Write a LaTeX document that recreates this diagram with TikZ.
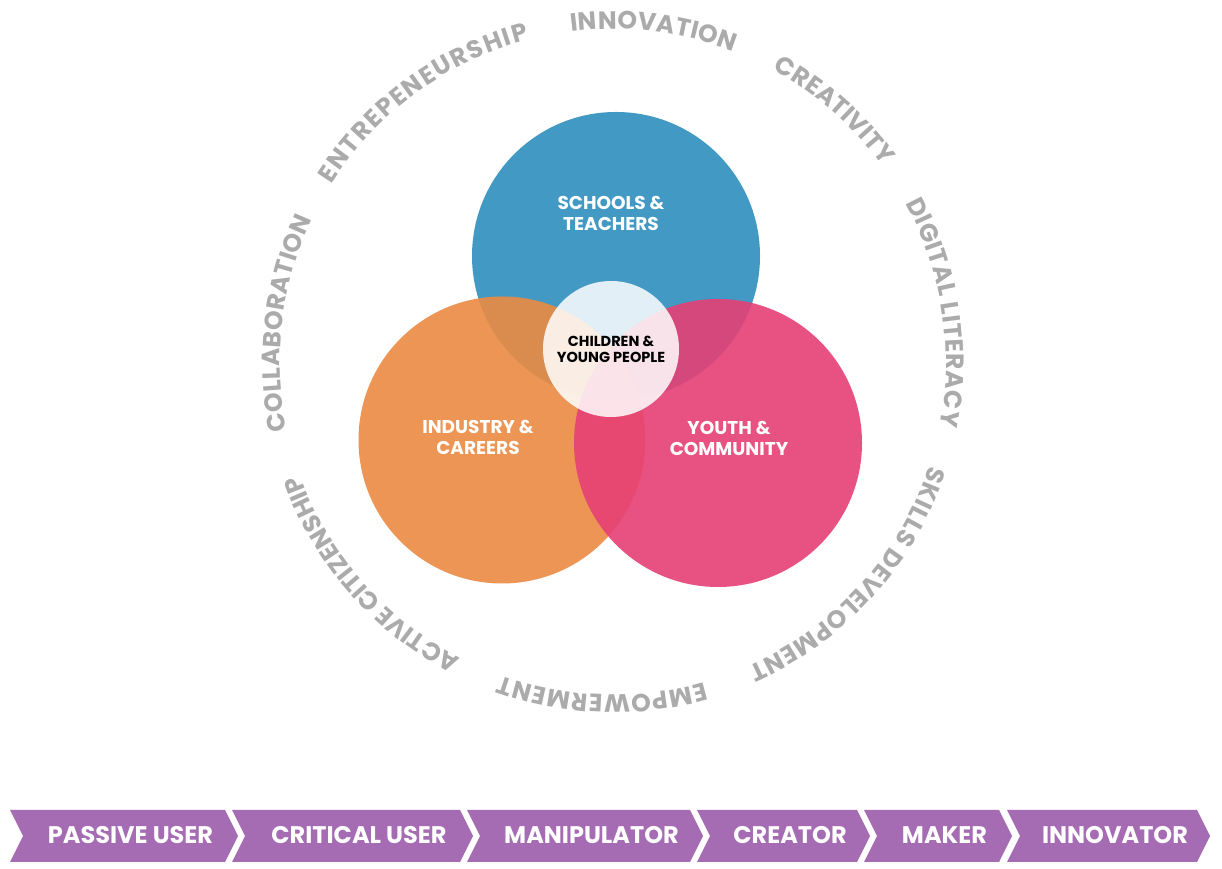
\documentclass[tikz,border=0pt]{standalone}
\usepackage{fontspec}
\setmainfont{Poppins}
\usetikzlibrary{decorations.text}
\definecolor{cblue}{HTML}{4299C4}
\definecolor{corange}{HTML}{EB8A42}
\definecolor{cpink}{HTML}{E64075}
\definecolor{ringgrey}{HTML}{ABABAB}
\definecolor{barpurple}{HTML}{A56CB4}
\newcommand\ringfont{\fontsize{25}{25}\selectfont\bfseries\color{ringgrey}}
\newcommand\ringlabel[3]{%
  \path[decorate,decoration={text along path,text align={fit to path},text={|\ringfont|#3}}]
    (ringc) ++(#1+0.7:333) arc[start angle=#1+0.7,end angle=#2-0.7,radius=333];}
\newcommand\chev[4]{%
  \fill[barpurple] (#2,59) -- (#3,59) -- ++(13,-26) -- ++(-13,-26) -- (#2,7) -- ++(13,26) -- cycle;
  \node[bartext] (#1) at ({(#2+#3)/2+13},25) {#4};}
\begin{document}
\begin{tikzpicture}[x=1pt,y=1pt,
  bartext/.style={anchor=base,text=white,font=\bfseries\fontsize{24}{24}\selectfont,inner sep=0pt},
  circlabel/.style={align=center,text=white,font=\bfseries\fontsize{18.5}{21}\selectfont,inner sep=0pt},
  venn/.style={circle,inner sep=0pt,minimum size=#1}]
\useasboundingbox (0,0) rectangle (1222,869);
\fill[white] (0,0) rectangle (1222,869);
\coordinate (ringc) at (613,507);
% Venn circles
\node[venn=288pt,fill=cblue] (schools) at (616,613) {};
\node[venn=287pt,fill=corange,fill opacity=0.9] (industry) at (502,429) {};
\node[venn=288pt,fill=cpink,fill opacity=0.9] (youth) at (718,426) {};
\node[venn=136pt,fill=white,fill opacity=0.85] (children) at (611,520) {};
% labels
\node[circlabel] (lschools) at (611,656) {SCHOOLS \&\\TEACHERS};
\node[circlabel] (lindustry) at (478,432) {INDUSTRY \&\\CAREERS};
\node[circlabel] (lyouth) at (729,431) {YOUTH \&\\COMMUNITY};
\node[align=center,text=black,font=\bfseries\fontsize{14.5}{16}\selectfont,inner sep=0pt] (lchildren) at (611,520) {CHILDREN \&\\YOUNG PEOPLE};
% ring
\ringlabel{96.5}{69.5}{INNOVATION}
\ringlabel{60.6}{37.4}{CREATIVITY}
\ringlabel{27.8}{-10.3}{DIGITAL LITERACY}
\ringlabel{-18.8}{-65.4}{SKILLS DEVELOPMENT}
\ringlabel{-74.8}{-109}{EMPOWERMENT}
\ringlabel{-118}{-159}{ACTIVE CITIZENSHIP}
\ringlabel{191.1}{155.4}{COLLABORATION}
\ringlabel{147}{105.3}{ENTREPENEURSHIP}
% bar
\chev{passive}{10}{225}{PASSIVE USER}
\chev{critical}{232}{460}{CRITICAL USER}
\chev{manip}{467}{690}{MANIPULATOR}
\chev{creator}{697}{857}{CREATOR}
\chev{maker}{864}{999}{MAKER}
\chev{innov}{1007}{1197}{INNOVATOR}
\end{tikzpicture}
\end{document}
